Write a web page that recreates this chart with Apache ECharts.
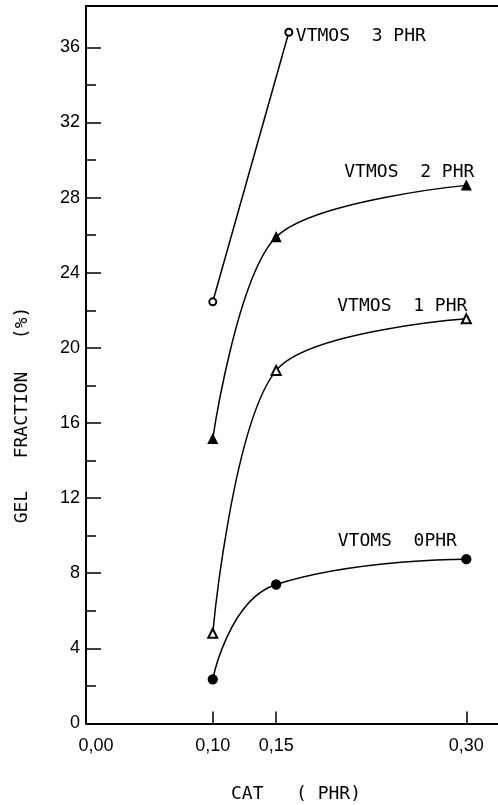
<!DOCTYPE html>
<html>
<head>
<meta charset="utf-8">
<script src="https://cdn.jsdelivr.net/npm/echarts@6/dist/echarts.min.js"></script>
<style>
  html, body { margin: 0; padding: 0; background: #fff; }
  #chart { width: 498px; height: 805px; }
</style>
</head>
<body>
<div id="chart"></div>
<script>
// Gel fraction vs catalyst loading, for four VTMOS levels
const catLevels3 = [0.10, 0.16];
const vtmos3 = [22.45, 36.8];

const catLevels = [0.10, 0.15, 0.30];
const vtmos2 = [15.15, 25.9, 28.65];
const vtmos1 = [4.8, 18.8, 21.55];
const vtmos0 = [2.35, 7.4, 8.75];

const seriesNames = ['VTMOS  3 PHR', 'VTMOS  2 PHR', 'VTMOS  1 PHR', 'VTOMS  0PHR'];

// axis ticks and labels
const yMajorTicks = [0, 4, 8, 12, 16, 20, 24, 28, 32, 36];
const yMinorTicks = [2, 6, 10, 14, 18, 22, 26, 30, 34];
const xTickValues = [0.10, 0.15, 0.30];
const xLabelValues = [0.00, 0.10, 0.15, 0.30];

const xTitle = 'CAT   ( PHR)';
const yTitle = 'GEL   FRACTION   (%)';

const tickFont = 'Liberation Sans';
const monoFont = 'DejaVu Sans Mono';

function pairs(xs, ys) {
  return xs.map((x, i) => [x, ys[i]]);
}

// attach the series name as a label beside one of its points
function withLabel(points, index, name, offset) {
  return points.map((p, i) => {
    if (i !== index) return p;
    return {
      value: p,
      label: {
        show: true,
        position: 'inside',
        offset: offset,
        formatter: name,
        fontFamily: monoFont,
        fontSize: 18,
        color: '#000'
      }
    };
  });
}

function lineSeries(data, symbol, size, smooth) {
  return {
    type: 'line',
    data: data,
    smooth: smooth,
    symbol: symbol,
    symbolSize: size,
    showSymbol: true,
    lineStyle: { color: '#000', width: 1.5 },
    itemStyle: { color: '#000', borderColor: '#000', borderWidth: 1.3 },
    emphasis: { disabled: true },
    z: 3
  };
}

const chart = echarts.init(document.getElementById('chart'), null, { renderer: 'canvas' });

const option = {
  animation: false,
  backgroundColor: '#fff',
  grid: { left: 86, right: 0, top: 6, bottom: 81.5, containLabel: false },
  xAxis: [
    {
      type: 'value',
      min: 0,
      max: 0.325,
      axisLine: { show: true, lineStyle: { color: '#000', width: 2 } },
      axisTick: { show: true, inside: true, length: 12, customValues: xTickValues, lineStyle: { color: '#000', width: 1.5 } },
      axisLabel: {
        show: true,
        customValues: xLabelValues,
        margin: 14,
        color: '#000',
        fontFamily: tickFont,
        fontSize: 18,
        formatter: v => v === 0 ? '{z|0,00}' : v.toFixed(2).replace('.', ','),
        rich: { z: { padding: [0, 0, 0, 20], fontFamily: tickFont, fontSize: 18, color: '#000' } }
      },
      splitLine: { show: false }
    },
    {
      type: 'value',
      position: 'top',
      min: 0,
      max: 0.325,
      axisLine: { show: true, onZero: false, lineStyle: { color: '#000', width: 2 } },
      axisTick: { show: false },
      axisLabel: { show: false },
      splitLine: { show: false }
    }
  ],
  yAxis: [
    {
      type: 'value',
      min: 0,
      max: 38.2,
      axisLine: { show: true, lineStyle: { color: '#000', width: 2 } },
      axisTick: { show: true, inside: true, length: 15, customValues: yMajorTicks, lineStyle: { color: '#000', width: 1.5 } },
      axisLabel: {
        show: true,
        customValues: yMajorTicks,
        margin: 6,
        color: '#000',
        fontFamily: tickFont,
        fontSize: 18
      },
      splitLine: { show: false }
    },
    {
      type: 'value',
      position: 'left',
      min: 0,
      max: 38.2,
      axisLine: { show: false },
      axisTick: { show: true, inside: true, length: 10, customValues: yMinorTicks, lineStyle: { color: '#000', width: 1.5 } },
      axisLabel: { show: false },
      splitLine: { show: false }
    }
  ],
  series: [
    lineSeries(withLabel(pairs(catLevels3, vtmos3), 1, seriesNames[0], [72, 4]), 'emptyCircle', 7, false),
    lineSeries(withLabel(pairs(catLevels, vtmos2), 2, seriesNames[1], [-57, -13]), 'triangle', 9, 0.3),
    lineSeries(withLabel(pairs(catLevels, vtmos1), 2, seriesNames[2], [-64, -12]), 'emptyTriangle', 9, 0.3),
    lineSeries(withLabel(pairs(catLevels, vtmos0), 2, seriesNames[3], [-69, -18]), 'circle', 9, 0.5)
  ],
  graphic: [
    {
      type: 'text',
      x: 296,
      y: 794,
      style: { text: xTitle, fontFamily: monoFont, fontSize: 18, fill: '#000', align: 'center', verticalAlign: 'middle' }
    },
    {
      type: 'text',
      x: 22,
      y: 415,
      rotation: Math.PI / 2,
      style: { text: yTitle, fontFamily: monoFont, fontSize: 18, fill: '#000', align: 'center', verticalAlign: 'middle' }
    }
  ]
};

chart.setOption(option);
</script>
</body>
</html>
